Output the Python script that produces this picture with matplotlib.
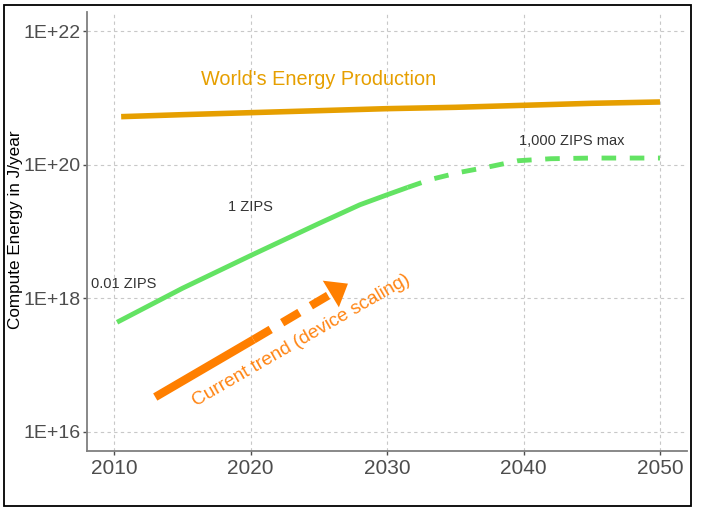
import matplotlib
matplotlib.use("Agg")
import matplotlib.pyplot as plt
import numpy as np
from matplotlib.patches import Rectangle, FancyArrowPatch

plt.rcParams['font.family'] = ['Liberation Sans', 'DejaVu Sans']

# Data (log10 of energy in J/year)
world_years = [2010.5, 2015, 2020, 2025, 2030, 2035, 2040, 2045, 2050]
world_log = [20.72, 20.75, 20.78, 20.81, 20.84, 20.86, 20.89, 20.92, 20.94]

green_solid_years = [2010.2, 2015, 2020, 2025, 2028, 2030, 2031.5]
green_solid_log = [17.64, 18.15, 18.64, 19.12, 19.40, 19.55, 19.66]
green_dash_years = [2031.5, 2033.2, 2035.3, 2037.5, 2039.6, 2042, 2045, 2050]
green_dash_log = [19.66, 19.78, 19.885, 19.97, 20.06, 20.09, 20.10, 20.10]

trend_solid_years = [2013.0, 2020.2]
trend_solid_log = [16.52, 17.38]
trend_dash_years = [2020.2, 2027.3]
trend_dash_log = [17.38, 18.24]

x_ticks = [2010, 2020, 2030, 2040, 2050]
y_ticks_log = [16.0, 18.0, 20.0, 22.0]
y_tick_labels = ["1E+16", "1E+18", "1E+20", "1E+22"]


def to_e(v):
    return [10.0 ** float(x) for x in v]


fig = plt.figure(figsize=(7.02, 5.08), dpi=100)
ax = fig.add_axes([0.124, 0.112, 0.855, 0.864])

ax.plot(world_years, to_e(world_log), color="#E69F00", lw=4.0, solid_capstyle="butt")
ax.plot(green_solid_years, to_e(green_solid_log), color="#63E363", lw=3.5, solid_capstyle="butt")
ax.plot(green_dash_years, to_e(green_dash_log), color="#63E363", lw=3.5,
        dashes=(3.0, 2.8), dash_capstyle="butt")

ax.plot(trend_solid_years, to_e(trend_solid_log), color="#FF7F00", lw=6.0, solid_capstyle="butt")
ax.plot([trend_dash_years[0], 2026.0], to_e([trend_dash_log[0], 18.08]), color="#FF7F00", lw=6.0,
        dashes=(2.4, 1.6), dash_capstyle="butt")
arr = FancyArrowPatch((2025.6, 10.0 ** 18.03), (trend_dash_years[1], 10.0 ** trend_dash_log[1]),
                      arrowstyle="-|>,head_length=9,head_width=7", color="#FF7F00",
                      lw=0, mutation_scale=1.6)
ax.add_patch(arr)

ax.set_yscale("log")
ax.set_xlim(2008.0, 2052.0)
ax.set_ylim(10.0 ** 15.71, 10.0 ** 22.285)
ax.set_xticks(x_ticks)
ax.set_xticklabels([str(x) for x in x_ticks])
ax.set_yticks(to_e(y_ticks_log))
ax.set_yticklabels(y_tick_labels)
ax.minorticks_off()
ax.tick_params(axis="both", colors="#4D4D4D", length=3, width=1)
ax.tick_params(axis="x", labelsize=15, pad=3)
ax.tick_params(axis="y", labelsize=14, pad=1.5)
ax.grid(True, color="#C8C8C8", ls=(0, (3, 3)), lw=0.8)
ax.set_axisbelow(True)
for s in ["top", "right"]:
    ax.spines[s].set_visible(False)
for s in ["left", "bottom"]:
    ax.spines[s].set_color("#7F7F7F")
    ax.spines[s].set_linewidth(1.3)

fig.text(15.5 / 702, 1 - 230 / 508, "Compute Energy in J/year", fontsize=12.3, color="black",
         rotation=90, ha="center", va="center")

ax.text(2024.95, 10.0 ** 21.28, "World's Energy Production", color="#E69F00", fontsize=14.3,
        ha="center", va="center")
ax.text(2043.5, 10.0 ** 20.35, "1,000 ZIPS max", color="#333333", fontsize=10.5, ha="center", va="center")
ax.text(2020.0, 10.0 ** 19.37, "1 ZIPS", color="#333333", fontsize=10.5, ha="center", va="center")
ax.text(2010.7, 10.0 ** 18.22, "0.01 ZIPS", color="#333333", fontsize=10.5, ha="center", va="center")
ax.text(2023.7, 10.0 ** 17.37, "Current trend (device scaling)", color="#FF8514", fontsize=13.7,
        ha="center", va="center", rotation=30, rotation_mode="anchor")

fig.patches.append(Rectangle((0.005, 0.003), 0.98, 0.988, transform=fig.transFigure,
                             fill=False, edgecolor="black", lw=1.3))

fig.savefig("out.png", dpi=100)
